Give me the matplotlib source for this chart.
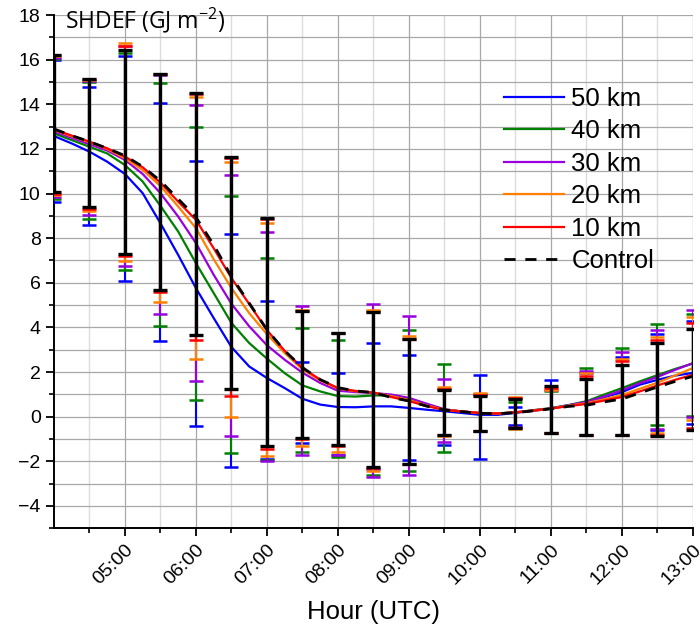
import numpy as np
import pandas as pd
import matplotlib
matplotlib.use("Agg")
import matplotlib.pyplot as plt
import matplotlib.dates as mdates
from matplotlib.ticker import MultipleLocator

plt.rcParams['font.family'] = ['Liberation Sans', 'DejaVu Sans']
plt.rcParams['mathtext.fontset'] = 'custom'
plt.rcParams['mathtext.rm'] = 'Open Sans'
plt.rcParams['mathtext.default'] = 'regular'

# ---- data -------------------------------------------------------------
# smooth curves, read every 15 minutes from 04:00 to 13:00
times_q = pd.date_range("2000-01-01 04:00", "2000-01-01 13:00", freq="15min")

control = [12.90, 12.60, 12.33, 12.03, 11.70, 11.21, 10.57, 9.76, 8.94, 7.70, 6.28, 5.09, 3.90,
           2.95, 2.20, 1.66, 1.30, 1.15, 1.08, 0.86, 0.70, 0.47, 0.30, 0.22, 0.15, 0.13, 0.18,
           0.26, 0.35, 0.46, 0.51, 0.66, 0.79, 1.06, 1.33, 1.58, 1.81]
km10 = [12.88, 12.60, 12.33, 12.03, 11.66, 11.18, 10.49, 9.64, 8.82, 7.55, 6.21, 5.05, 3.88,
        2.95, 2.18, 1.66, 1.28, 1.15, 1.08, 0.88, 0.70, 0.47, 0.30, 0.23, 0.16, 0.14, 0.19,
        0.27, 0.36, 0.47, 0.57, 0.72, 0.88, 1.13, 1.40, 1.65, 1.88]
km20 = [12.85, 12.57, 12.30, 12.00, 11.58, 11.06, 10.34, 9.42, 8.45, 7.06, 5.76, 4.64, 3.70,
        2.85, 2.12, 1.62, 1.26, 1.14, 1.08, 0.92, 0.74, 0.50, 0.31, 0.23, 0.16, 0.14, 0.19,
        0.27, 0.36, 0.49, 0.60, 0.78, 0.97, 1.25, 1.52, 1.85, 2.18]
km30 = [12.78, 12.50, 12.21, 11.93, 11.51, 10.88, 10.02, 8.97, 7.78, 6.36, 5.06, 4.05, 3.20,
        2.55, 1.97, 1.51, 1.16, 1.10, 1.06, 0.99, 0.84, 0.58, 0.33, 0.23, 0.16, 0.14, 0.19,
        0.28, 0.37, 0.51, 0.66, 0.90, 1.18, 1.50, 1.78, 2.10, 2.40]
km40 = [12.70, 12.40, 12.10, 11.80, 11.28, 10.54, 9.45, 8.30, 6.88, 5.54, 4.20, 3.30, 2.60,
        1.95, 1.40, 1.13, 0.92, 0.90, 0.95, 0.95, 0.78, 0.55, 0.32, 0.23, 0.16, 0.14, 0.19,
        0.29, 0.38, 0.52, 0.69, 0.99, 1.28, 1.58, 1.86, 2.14, 2.38]
km50 = [12.58, 12.25, 11.88, 11.43, 10.88, 10.02, 8.67, 7.25, 5.76, 4.42, 3.12, 2.25, 1.73,
        1.28, 0.80, 0.54, 0.43, 0.42, 0.46, 0.46, 0.39, 0.31, 0.24, 0.16, 0.08, 0.08, 0.17,
        0.26, 0.36, 0.51, 0.63, 0.87, 1.10, 1.43, 1.65, 1.84, 1.96]

# error-bar ranges every 30 minutes (04:00 ... 13:00)
control_hi = [16.20, 15.15, 16.45, 15.36, 14.52, 11.66, 8.90, 4.75, 3.77, 4.69, 3.48, 1.21, 0.92, 0.79, 1.36, 1.69, 2.33, 3.28, 3.93]
control_lo = [10.05, 9.39, 7.28, 5.69, 3.67, 1.24, -1.33, -0.98, -1.29, -2.25, -2.12, -0.84, -0.66, -0.50, -0.73, -0.81, -0.81, -0.85, -0.60]
km10_hi = [16.20, 15.12, 16.62, 15.36, 14.45, 11.60, 8.85, 4.75, 3.77, 4.70, 3.50, 1.25, 0.98, 0.85, 1.30, 1.84, 2.48, 3.45, 4.20]
km10_lo = [10.00, 9.32, 7.18, 5.57, 3.42, 0.91, -1.45, -1.00, -1.30, -2.30, -2.12, -0.84, -0.66, -0.50, -0.73, -0.81, -0.81, -0.84, -0.50]
km20_hi = [16.15, 15.10, 16.75, 15.35, 14.34, 11.40, 8.67, 4.80, 3.77, 4.76, 3.60, 1.33, 1.06, 0.90, 1.18, 1.95, 2.60, 3.57, 4.45]
km20_lo = [9.95, 9.24, 6.96, 5.14, 2.60, 0.00, -1.75, -1.30, -1.60, -2.42, -2.12, -0.86, -0.66, -0.55, -0.75, -0.81, -0.81, -0.72, -0.15]
km30_hi = [16.10, 15.05, 16.60, 15.30, 13.97, 10.82, 8.27, 4.94, 3.77, 5.05, 4.49, 1.70, 1.00, 0.85, 1.20, 2.03, 2.88, 3.90, 4.79]
km30_lo = [9.85, 9.05, 6.76, 4.60, 1.58, -0.86, -2.00, -1.70, -1.70, -2.72, -2.60, -1.13, -0.66, -0.45, -0.73, -0.81, -0.81, -0.54, -0.02]
km40_hi = [16.05, 15.00, 16.30, 14.94, 12.99, 9.91, 7.10, 3.99, 3.43, 4.72, 3.90, 2.37, 1.00, 0.64, 1.15, 2.18, 3.08, 4.16, 4.62]
km40_lo = [9.75, 8.88, 6.58, 4.07, 0.75, -1.61, -1.95, -1.57, -1.81, -2.62, -2.42, -1.60, -0.66, -0.45, -0.73, -0.81, -0.81, -0.39, 0.05]
km50_hi = [16.00, 14.80, 16.18, 14.08, 11.48, 8.17, 5.19, 2.47, 1.96, 3.30, 2.76, 1.25, 1.88, 0.43, 1.63, 1.95, 2.67, 3.70, 4.30]
km50_lo = [9.63, 8.60, 6.10, 3.37, -0.40, -2.24, -1.88, -1.20, -1.70, -2.35, -1.93, -1.28, -1.88, -0.36, -0.73, -0.81, -0.81, -0.60, -0.32]

labels = ["50 km", "40 km", "30 km", "20 km", "10 km", "Control"]
colors = ["#0000ff", "#008000", "#9900dd", "#ff8000", "#ff0000", "#000000"]

curves = [km50, km40, km30, km20, km10, control]
highs = [km50_hi, km40_hi, km30_hi, km20_hi, km10_hi, control_hi]
lows = [km50_lo, km40_lo, km30_lo, km20_lo, km10_lo, control_lo]

# ---- figure -----------------------------------------------------------
fig = plt.figure(figsize=(7.0, 6.31), dpi=100)
ax = fig.add_axes([0.077, 0.163, 0.913, 0.813])

times_h = times_q[::2]
for i, (lab, col, y, hi, lo) in enumerate(zip(labels, colors, curves, highs, lows)):
    hi = np.array(hi)
    lo = np.array(lo)
    mid = (hi + lo) / 2
    is_ctrl = lab == "Control"
    ax.errorbar(times_h, mid, yerr=(hi - lo) / 2, fmt='none', ecolor=col,
                elinewidth=2.4 if is_ctrl else 1.5, capsize=5.0,
                capthick=2.4 if is_ctrl else 1.8, zorder=3 + i * 0.1)
    ax.plot(times_q, y, color=col, lw=2.0 if is_ctrl else 1.6,
            ls=(0, (4, 3.5)) if is_ctrl else '-', label=lab, zorder=2 + i * 0.1)

ax.set_xlim(times_q[0], times_q[-1])
ax.set_ylim(-5, 18)

ax.xaxis.set_major_locator(mdates.HourLocator(byhour=range(5, 14)))
ax.xaxis.set_minor_locator(mdates.MinuteLocator(byminute=[30]))
ax.xaxis.set_major_formatter(mdates.DateFormatter("%H:%M"))
ax.yaxis.set_major_locator(MultipleLocator(2))
ax.yaxis.set_minor_locator(MultipleLocator(1))

ax.grid(which='major', color='#a8a8a8', lw=0.9, zorder=0)
ax.grid(which='minor', axis='y', color='#a8a8a8', lw=0.9, zorder=0)
ax.grid(which='minor', axis='x', color='#dcdcdc', lw=1.0, zorder=0)

for s in ['top', 'right']:
    ax.spines[s].set_visible(False)
for s in ['left', 'bottom']:
    ax.spines[s].set_linewidth(1.4)

ax.tick_params(which='major', direction='out', length=6, width=1.3, labelsize=14)
ax.tick_params(which='minor', direction='out', length=3.5, width=1.2)
plt.setp(ax.get_xticklabels(), rotation=45, ha='right', rotation_mode='anchor')

ax.set_xlabel("Hour (UTC)", fontsize=18.5, labelpad=9)
ax.text(0.017, 0.99, r"SHDEF (GJ m$^{-2}$)", transform=ax.transAxes,
        fontsize=16.5, family=['Open Sans', 'DejaVu Sans'], ha='left', va='center', clip_on=False)

ax.legend(loc='upper left', bbox_to_anchor=(0.705, 0.86), frameon=False,
          fontsize=18.5, handlelength=2.3, handletextpad=0.3, labelspacing=0.33,
          borderpad=0, borderaxespad=0)

fig.savefig("out.png", dpi=100)
